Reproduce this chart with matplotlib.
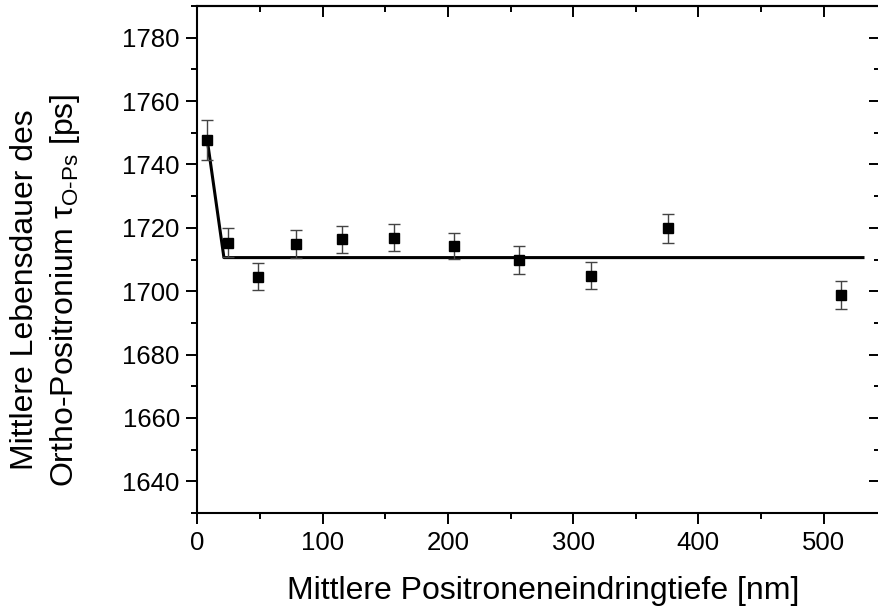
import matplotlib
matplotlib.use('Agg')
import matplotlib.pyplot as plt
from matplotlib.ticker import MultipleLocator

plt.rcParams['font.family'] = ['Liberation Sans', 'DejaVu Sans']
plt.rcParams['mathtext.fontset'] = 'custom'
plt.rcParams['mathtext.rm'] = 'Liberation Sans'
plt.rcParams['mathtext.it'] = 'Liberation Sans:italic'
plt.rcParams['mathtext.bf'] = 'Liberation Sans:bold'

# measured values
depth = [7.8, 24.1, 48.3, 78.6, 115.1, 156.8, 204.7, 257.1, 314.0, 376.0, 513.6]
tau = [1747.7, 1715.3, 1704.6, 1714.9, 1716.4, 1716.9, 1714.3, 1709.8, 1704.9, 1719.8, 1698.8]
tau_err = [6.4, 4.5, 4.3, 4.3, 4.3, 4.3, 4.2, 4.4, 4.3, 4.5, 4.5]

# fit line
fit_x = [7.8, 21.1, 531.4]
fit_y = [1747.7, 1710.6, 1710.6]

fig = plt.figure(figsize=(8.79, 6.09), dpi=100)
ax = fig.add_axes([197.5 / 879, 1 - 513 / 609, (880 - 197.5) / 879, (513 - 6) / 609])

ax.plot(fit_x, fit_y, color='black', lw=2.2, zorder=2)
ax.errorbar(depth, tau, yerr=tau_err, fmt='s', color='black', markersize=7.2,
            ecolor='#444444', elinewidth=1, capsize=4.5, capthick=1, zorder=3)

ax.set_xlim(0, 545)
ax.set_ylim(1630, 1790)
ax.xaxis.set_major_locator(MultipleLocator(100))
ax.xaxis.set_minor_locator(MultipleLocator(50))
ax.yaxis.set_major_locator(MultipleLocator(20))
ax.yaxis.set_minor_locator(MultipleLocator(10))

for s in ax.spines.values():
    s.set_linewidth(1.5)

ax.tick_params(which='both', direction='out', width=1.4, labelsize=18.5, pad=5)
ax.tick_params(which='major', length=7.7)
ax.tick_params(which='minor', length=4.3)
ax.tick_params(which='both', top=False, right=False)

# inward ticks on top and right
sec_x = ax.secondary_xaxis('top')
sec_x.xaxis.set_major_locator(MultipleLocator(100))
sec_x.xaxis.set_minor_locator(MultipleLocator(50))
sec_x.tick_params(which='both', direction='in', width=1.4, labeltop=False)
sec_x.tick_params(which='major', length=7.7)
sec_x.tick_params(which='minor', length=4.3)
sec_x.spines['top'].set_linewidth(1.5)
sec_y = ax.secondary_yaxis('right')
sec_y.yaxis.set_major_locator(MultipleLocator(20))
sec_y.yaxis.set_minor_locator(MultipleLocator(10))
sec_y.tick_params(which='both', direction='in', width=1.4, labelright=False)
sec_y.tick_params(which='major', length=7.7)
sec_y.tick_params(which='minor', length=4.3)

ax.set_xlabel('Mittlere Positroneneindringtiefe [nm]', fontsize=23)
ax.xaxis.set_label_coords(0.506, -0.124)
ax.set_ylabel('Mittlere Lebensdauer des\nOrtho-Positronium τ$_{\\text{O-Ps}}$ [ps]',
              fontsize=23, linespacing=1.3, va='center', ha='center')
ax.yaxis.set_label_coords(-0.222, 0.44)

fig.savefig('out.png', dpi=100)
